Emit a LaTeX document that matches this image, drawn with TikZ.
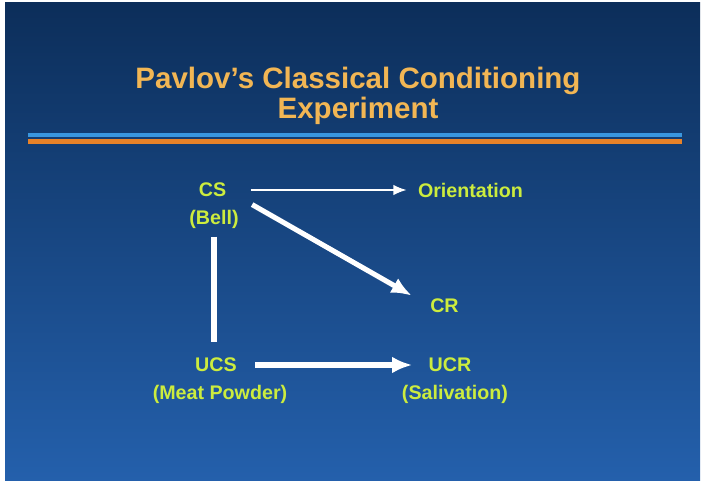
\documentclass[tikz,border=0pt]{standalone}
\usepackage{fontspec}
\setmainfont{Liberation Sans}
\usetikzlibrary{arrows.meta}

\definecolor{slidetop}{RGB}{12,46,90}
\definecolor{slidemid}{RGB}{24,50,136}
\definecolor{slidebot}{RGB}{36,96,172}
\definecolor{titleorange}{RGB}{242,182,84}
\definecolor{labelgreen}{RGB}{204,236,62}
\definecolor{barblue}{RGB}{58,150,222}
\definecolor{barorange}{RGB}{232,130,40}

\tikzset{
  lbl/.style={text=labelgreen, font=\fontsize{11.2}{13}\selectfont\bfseries, inner sep=0pt},
  thinarrow/.style={->, white, line width=1.1pt, >={Latex[length=7.5pt,width=6pt]}},
  thickarrow/.style={->, white, line width=2.9pt, >={Latex[length=11.5pt,width=9.5pt]}},
  thickline/.style={white, line width=2.9pt}
}

\begin{document}
\begin{tikzpicture}[x=0.02cm, y=-0.02cm]
\useasboundingbox (0,0) rectangle (701,482);
\fill[white] (0,0) rectangle (701,482);
\shade[top color=slidetop, middle color=slidemid, bottom color=slidebot] (5,3) rectangle (700,481);
% Title and bars
\node[text=titleorange, align=center, font=\fontsize{16.8}{16.8}\selectfont\bfseries] (title) at (358,96) {Pavlov's Classical Conditioning\\Experiment};
\fill[barblue] (28,133) rectangle (682,137.5);
\fill[barorange] (28,139) rectangle (682,144);
% Labels
\node[lbl] (cs) at (212.5,190) {CS};
\node[lbl] (csnote) at (214,219) {(Bell)};
\node[lbl] (orient) at (470.5,190) {Orientation};
\node[lbl] (cr) at (444.5,306) {CR};
\node[lbl] (ucs) at (216,365) {UCS};
\node[lbl] (ucsnote) at (220,394) {(Meat Powder)};
\node[lbl] (ucr) at (450,365) {UCR};
\node[lbl] (ucrnote) at (455,394) {(Salivation)};
% Arrows
\draw[thinarrow, shorten <=0.48cm, shorten >=0.22cm] (cs.east) -- (orient.west);
\draw[thickarrow, shorten <=0.59cm, shorten >=0.42cm] (cs.east) -- (cr.west);
\draw[thickline, shorten <=0.16cm, shorten >=0.32cm] (csnote.south) -- (csnote.south |- ucs.north);
\draw[thickarrow, shorten <=0.36cm, shorten >=0.32cm] (ucs.east) -- (ucr.west);
\end{tikzpicture}
\end{document}
